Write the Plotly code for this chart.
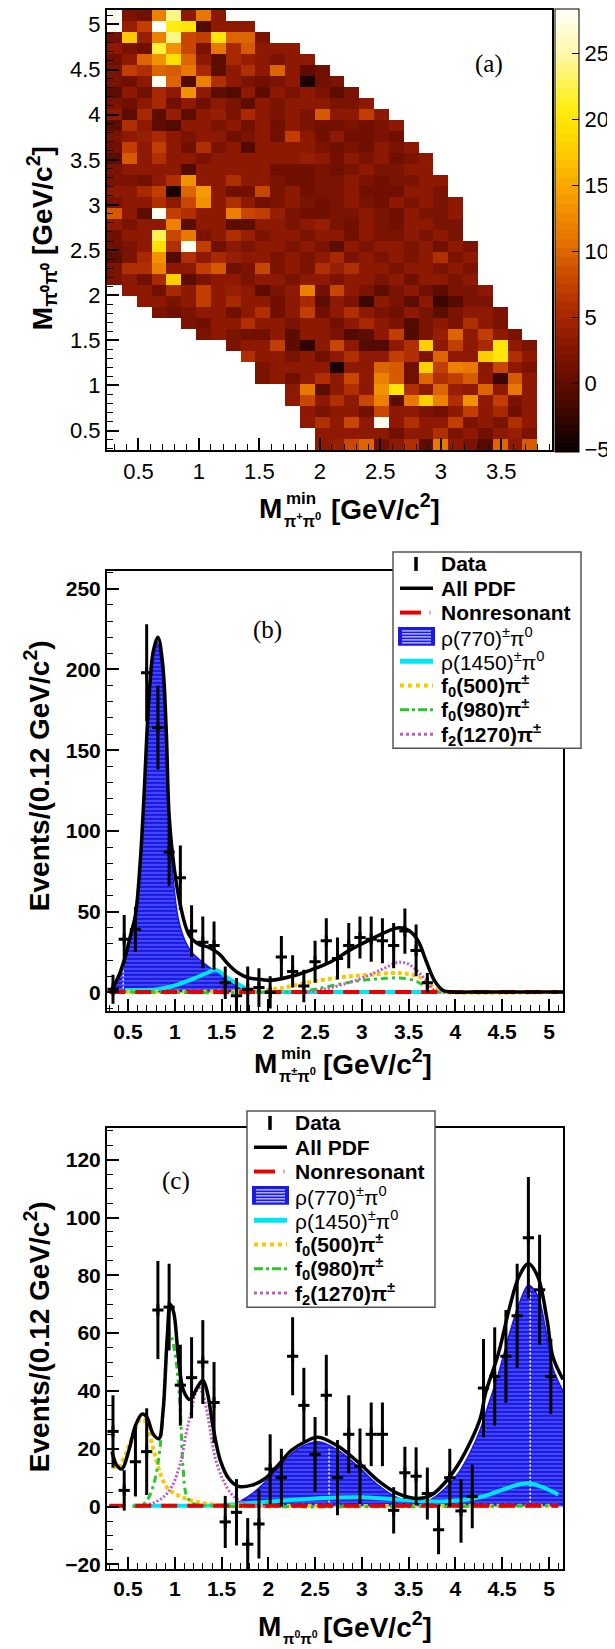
import plotly.graph_objects as go

W, H = 615, 1649
N = None

# ---------------- (a) background-subtracted Dalitz plot ----------------
# 30 columns in M_min(pi+pi0), 40 rows in M(pi0pi0); rows listed top -> bottom
dalitz_rows = [
    [30, 2, 1, 12, 24, 3, 11, 3],
    [30, 4, 7, 30, 21, 20, -1, 3, 3, 3],
    [1, 17, 4, 12, 24, 8, 7, 20, 10, 10, 2],
    [3, 2, 1, 22, 13, 8, 2, 11, 5, 9, 3, 3, 3],
    [1, 3, 10, 13, 19, 10, 3, 0, 5, 4, 3, 2, 3, 3],
    [2, 7, 6, 10, 9, 11, 5, 0, 3, 6, 3, 10, 3, 0, 1],
    [2, 1, 3, 30, 10, -1, 12, 6, 3, 2, 1, 2, 3, -4, 1, 2],
    [0, 3, 1, 5, 3, 13, 3, 0, -1, 3, 0, 3, 2, 3, 2, 0, 2],
    [2, 1, 3, 5, 1, 3, 1, 3, 2, 0, 3, 2, 3, 3, 3, 2, 2, 3],
    [3, 0, 5, 0, 4, 0, 3, 4, 2, 5, 3, 2, 3, 2, 9, 3, 3, 7, 3],
    [0, 6, 3, 0, -1, 3, 3, 2, 3, 1, 3, 1, 3, 2, 1, 1, 2, 1, 2, 3],
    [2, 3, 4, 5, 3, 2, 3, 3, 1, 2, 3, 1, 7, 3, 1, 3, 1, 1, 2, 1],
    [1, 7, 3, 7, 3, 1, 6, 2, 3, -1, 3, 3, 3, 3, 2, 1, 2, 1, 3, 2, 3],
    [0, 9, 3, 6, 3, 3, 2, 3, 3, 3, 3, 3, 3, 4, 3, 1, 3, 2, 3, 1, 2, 3],
    [2, 3, 3, 3, 3, -1, 3, 3, 3, 3, 3, 1, 1, 1, 2, 1, 2, 3, 2, 2, 3, 3],
    [2, 2, 1, 3, 6, 13, 3, 3, 6, 3, 3, 2, 1, 1, 2, 2, 3, 2, 1, 2, 2, 3, 3],
    [3, 3, 5, 7, -4, 10, 14, 3, 1, 1, 8, 2, 3, 1, 2, 2, 3, 1, 1, 1, 3, 3, 2],
    [2, 3, 3, 6, 3, 8, 13, 3, 6, 3, 1, 2, 3, 2, 1, 2, 3, 2, 1, 3, 2, 3, 2, 3],
    [9, 3, 0, 30, 7, 6, 3, 3, 12, 8, 7, 4, 2, 1, 1, 2, 2, 3, 2, 1, 3, 2, 2, 3],
    [3, 2, 3, 3, 12, 0, 3, 3, 0, 0, 3, 3, 2, 3, 4, 2, 1, 3, 2, 1, 3, 3, 2, 2],
    [1, 3, 3, 23, 8, 11, 2, 3, 6, 4, 2, 3, 3, 2, 3, 3, 1, 3, 2, 2, 3, 2, 3, 2],
    [1, 2, 3, 19, 6, 30, 7, 1, 3, 2, 3, 3, 2, 3, 2, 0, 3, 2, 3, 3, 2, 3, 1, 3, 2],
    [0, 2, 5, 13, -1, 6, 3, 5, 4, 3, 3, 2, 3, 2, 3, 5, 2, 3, 2, 3, 2, 3, 6, 2, 3],
    [2, 6, 6, 12, 3, 3, 7, 9, 1, 2, 8, 2, 3, 2, 6, 4, 6, 3, 3, 2, 3, 3, 2, 3, 2],
    [2, 3, 1, 5, 18, 0, 2, 3, 3, 2, 3, 3, 2, 3, 3, 2, 3, 3, 2, 3, 1, 3, 3, 2, 3],
    [N, 3, 3, 1, 5, 3, 7, 3, 4, 3, 0, 2, 3, 12, 1, 8, 3, 2, 0, 2, 3, 1, 0, 2, 2, 3],
    [N, N, 3, 3, 2, 3, 7, 3, 5, 3, 3, 1, 3, 5, 0, 3, 2, -2, 3, 2, 0, 3, -2, -1, 2, 2],
    [N, N, N, 2, 1, 2, 3, 3, 1, 3, 6, 1, 3, 7, 1, 3, 6, 3, 2, 1, 3, 2, 0, 2, 3, 3, 2],
    [N, N, N, N, N, 2, 1, 3, 3, 6, 3, 3, 2, 3, 3, 1, 3, 5, 3, 2, -1, 2, 3, 2, 6, 3, 2],
    [N, N, N, N, N, N, 2, 3, 2, 1, 1, 3, 0, 3, 3, 2, -1, 0, 3, 7, -1, 2, 4, 10, 3, 7, 3, 2],
    [N, N, N, N, N, N, N, N, 2, 3, 3, 7, 0, -3, 3, 8, 3, -1, -1, 3, 6, 18, 3, 7, 3, 5, 20, 3, 2],
    [N, N, N, N, N, N, N, N, N, 6, 3, 3, 2, 3, 1, 3, 6, 3, 3, 7, 6, 2, 10, 3, 3, 18, 20, 6, 3],
    [N, N, N, N, N, N, N, N, N, N, 2, 3, 3, 3, 3, -4, 3, 3, 10, 9, 1, 18, 7, 12, 11, 3, 8, 3, 2],
    [N, N, N, N, N, N, N, N, N, N, 2, 3, 1, 3, 6, 3, 8, 3, 12, 9, 1, 10, 6, 7, 9, 3, -2, 9, 3],
    [N, N, N, N, N, N, N, N, N, N, N, N, 3, 11, 0, 3, 6, 3, 13, 20, 6, 3, 10, 4, 3, 10, 3, 11, 3],
    [N, N, N, N, N, N, N, N, N, N, N, N, 3, 8, 3, 6, 3, 8, 12, 0, 11, 18, 12, 6, 13, 3, 7, 2, 3],
    [N, N, N, N, N, N, N, N, N, N, N, N, N, 3, 2, 3, 3, 1, 8, 3, 3, 2, 1, 3, 7, 3, 5, 1, 3],
    [N, N, N, N, N, N, N, N, N, N, N, N, N, 3, 6, 3, 8, 3, 30, 3, 6, 3, 3, 7, 2, 3, 2, 6, 3],
    [N, N, N, N, N, N, N, N, N, N, N, N, N, N, 3, 3, 3, 3, 3, 1, 3, 3, 6, 2, 3, 1, 3, 4, 2],
    [N, N, N, N, N, N, N, N, N, N, N, N, N, N, 3, 4, 8, 10, 1, 3, 6, 0, 11, 3, 2, -1, 10, 3, 9],
]
z_min, z_max = -5.2, 28.4
palette = [(-5.2, (10, 0, 0)), (-3, (45, 5, 0)), (-1, (80, 10, 0)), (1, (110, 15, 0)),
           (3, (138, 24, 3)), (5, (165, 38, 0)), (7, (190, 58, 0)), (9, (212, 87, 0)),
           (11, (231, 117, 0)), (13, (242, 142, 0)), (15, (249, 168, 0)), (17, (253, 196, 0)),
           (19, (255, 221, 0)), (21, (255, 237, 20)), (23, (255, 244, 95)), (25, (255, 248, 170)),
           (28.4, (255, 255, 250))]

# ---------------- (b) M_min(pi+- pi0) projection ----------------
b_x = [0.34, 0.46, 0.58, 0.70, 0.82, 0.94, 1.06, 1.18, 1.30, 1.42, 1.54, 1.66, 1.78, 1.90, 2.02,
       2.14, 2.26, 2.38, 2.50, 2.62, 2.74, 2.86, 2.98, 3.10, 3.22, 3.34, 3.46, 3.58, 3.70]
b_y = [2, 33, 39, 198, 164, 87, 71, 38, 31, 29, 6, -2, 2, 3, 0,
       22, 13, 4, 19, 32, 21, 29, 34, 33, 32, 29, 38, 26, 6]
b_err = [9, 15, 14, 30, 26, 21, 20, 16, 16, 15, 10, 11, 14, 12, 10,
         13, 10, 10, 13, 14, 13, 14, 13, 14, 14, 14, 14, 16, 6]

b_tot_x = [0.33, 0.40, 0.47, 0.53, 0.58, 0.63, 0.67, 0.72, 0.77, 0.82, 0.87, 0.91, 0.94, 0.99,
           1.06, 1.15, 1.25, 1.36, 1.47, 1.58, 1.68, 1.79, 1.93, 2.03, 2.25, 2.46, 2.67, 2.88,
           3.10, 3.28, 3.40, 3.51, 3.60, 3.69, 3.78, 3.87, 3.96, 4.3, 5.15]
b_tot_y = [2, 10, 22, 36, 48, 80, 120, 178, 211, 220, 204, 161, 110, 79,
           54, 36, 30, 28, 24, 17, 12, 9, 8, 7.5, 10, 14, 19, 26.5,
           33, 38, 40, 38, 32, 19, 7, 1.2, 0.3, 0.3, 0.3]
b_rho_x = [0.33, 0.40, 0.47, 0.53, 0.58, 0.63, 0.67, 0.72, 0.77, 0.81, 0.86, 0.90, 0.94, 0.98,
           1.04, 1.11, 1.18, 1.27, 1.36, 1.45, 1.54, 1.62, 1.68, 1.74, 1.80]
b_rho_y = [1, 9, 20, 34, 46, 77, 117, 175, 208, 217, 201, 158, 104, 72,
           45, 32, 25, 20, 16, 12.5, 9, 5.5, 3, 1.2, 0]
b_r1450_x = [0.47, 0.65, 0.82, 0.95, 1.04, 1.13, 1.22, 1.30, 1.36, 1.43, 1.49, 1.54, 1.61, 1.68,
             1.75, 1.82, 1.95, 2.5, 3.0, 3.5, 3.85]
b_r1450_y = [1.5, 1.5, 2, 3.5, 5, 7, 9, 11, 12.5, 14, 12.5, 10, 7.5, 5,
             3, 1.2, 0.4, 0.3, 0.3, 0.3, 0.3]
b_f500_x = [0.33, 0.8, 1.3, 1.8, 2.05, 2.25, 2.5, 2.8, 3.1, 3.4, 3.6, 3.72, 3.82, 3.9, 5.15]
b_f500_y = [0.5, 0.5, 0.5, 0.8, 2, 4, 7, 9.5, 11, 12, 10, 5, 1, 0.2, 0.2]
b_f980_x = [0.33, 2.3, 2.5, 2.75, 3.0, 3.2, 3.4, 3.58, 3.7, 3.8, 3.9]
b_f980_y = [0.3, 0.5, 2, 5, 7.5, 8.5, 9, 7, 3, 0.5, 0.2]
b_f2_x = [2.3, 2.45, 2.6, 2.8, 3.03, 3.24, 3.38, 3.48, 3.58, 3.69, 3.77, 3.85]
b_f2_y = [0, 0.5, 2, 5, 9.5, 15, 18.5, 18, 14, 7, 1.5, 0.2]
b_nr_x = [0.3, 5.1]
b_nr_y = [0.3, 0.3]
b_seam_x = [0.45]          # white seam visible inside the rho(770) fill
b_seam_top = [17]

# ---------------- (c) M(pi0 pi0) projection ----------------
c_x = [0.34, 0.46, 0.58, 0.70, 0.82, 0.94, 1.06, 1.18, 1.30, 1.42, 1.54, 1.66, 1.78, 1.90,
       2.02, 2.14, 2.26, 2.38, 2.50, 2.62, 2.74, 2.86, 2.98, 3.10, 3.22, 3.34, 3.46, 3.58,
       3.70, 3.82, 3.94, 4.06, 4.18, 4.30, 4.42, 4.54, 4.66, 4.78, 4.90, 5.02]
c_y = [26, 5.6, 15.5, 19, 68, 69, 42, 44.6, 50, 36, -5.3, -2, -13, -6,
       13, 10, 52, 35, 18, 38.5, 10, 25, 14, 25, 25, -1.3, 11.7, 10.5,
       4.5, -8, 10, -1.5, 3.5, 41, 45, 52, 66, 93, 75, 45]
c_err = [12.5, 7, 12, 15, 17, 15, 14, 14, 14.5, 14, 9, 11.5, 9, 12,
         12, 10, 13.5, 13, 13, 14, 13, 13.5, 13, 11, 11, 8, 9, 10,
         9, 8.5, 10, 11, 11, 17, 17, 16, 18, 21, 19, 13]

c_tot_x = [0.33, 0.38, 0.435, 0.51, 0.58, 0.65, 0.70, 0.77, 0.83, 0.875, 0.92, 0.952, 0.99,
           1.035, 1.095, 1.166, 1.237, 1.30, 1.345, 1.416, 1.487, 1.577, 1.68, 1.825, 1.966,
           2.11, 2.25, 2.40, 2.53, 2.74, 2.955, 3.17, 3.385, 3.60, 3.74, 3.88, 4.025, 4.17,
           4.27, 4.32, 4.46, 4.58, 4.68, 4.78, 4.88, 4.98, 5.04, 5.15]
c_tot_y = [19, 14.3, 13, 19.5, 28, 32, 31, 25, 23.5, 33, 58.7, 70, 67,
           53, 40, 37, 41, 43.7, 40, 26.4, 16, 9.7, 7, 7.4, 9.7,
           14.5, 19.5, 22.5, 24, 21, 15.5, 9.1, 4.5, 2.8, 3.9, 8, 14.3, 23,
           31, 39, 53, 69, 79.6, 84, 79.6, 64.5, 52, 44]
c_rho_x = [1.59, 1.68, 1.825, 1.966, 2.11, 2.32, 2.53, 2.74, 2.955, 3.17, 3.385, 3.6, 3.74,
           3.88, 4.03, 4.17, 4.27, 4.34, 4.46, 4.58, 4.68, 4.78, 4.88, 4.96, 5.04, 5.15]
c_rho_y = [0, 1.5, 4.4, 8.5, 13.5, 20, 22.4, 19.6, 14, 7.5, 3, 1.5, 2.5,
           6, 11.5, 19.5, 27, 34, 46, 60, 70, 76.6, 73, 62, 48, 40]
c_r1450_x = [0.55, 1.0, 1.5, 1.8, 2.2, 2.6, 3.0, 3.4, 3.7, 4.0, 4.3, 4.5, 4.7, 4.8, 4.95, 5.1]
c_r1450_y = [0.3, 0.3, 0.5, 1.2, 2.2, 3.0, 3.2, 2.4, 1.8, 2.0, 3.5, 5.8, 7.8, 8, 6.5, 4.2]
c_f500_x = [0.33, 0.40, 0.46, 0.52, 0.58, 0.63, 0.67, 0.72, 0.78, 0.85, 0.92, 1.0, 1.1,
            1.25, 1.5, 2.0, 5.1]
c_f500_y = [14, 13.5, 17, 22, 27, 30, 30, 26, 19, 11, 6.5, 4.5, 3, 1.5, 0.5, 0.3, 0.3]
c_f980_x = [0.55, 0.65, 0.72, 0.80, 0.87, 0.92, 0.95, 0.98, 1.02, 1.06, 1.09, 1.13, 1.2, 1.4, 5.1]
c_f980_y = [0, 0.5, 3, 11, 30, 56, 60, 57, 49, 33, 13, 3.5, 1, 0.3, 0.3]
c_f2_x = [0.6, 0.75, 0.88, 0.97, 1.06, 1.12, 1.17, 1.22, 1.26, 1.30, 1.35, 1.40, 1.44,
          1.51, 1.59, 1.68, 1.8, 2.0]
c_f2_y = [0, 1, 3.3, 7, 15, 25, 32, 39, 41, 39, 32, 22, 16, 9.7, 5, 2.3, 0.5, 0]
c_nr_x = [0.3, 5.1]
c_nr_y = [0.3, 0.3]
c_seam_x = [2.65, 4.80]
c_seam_top = [20, 74]

legend_labels = ["<b>Data</b>", "<b>All PDF</b>", "<b>Nonresonant</b>",
                 "ρ(770)<sup>±</sup>π<sup>0</sup>", "ρ(1450)<sup>±</sup>π<sup>0</sup>",
                 "<b>f<sub>0</sub>(500)π<sup>±</sup></b>", "<b>f<sub>0</sub>(980)π<sup>±</sup></b>",
                 "<b>f<sub>2</sub>(1270)π<sup>±</sup></b>"]

BLUE = "rgb(25,25,235)"
CYAN = "rgb(0,230,240)"
RED = "rgb(230,0,0)"
GOLD = "rgb(250,200,0)"
GREEN = "rgb(40,200,40)"
VIOLET = "rgb(190,90,200)"
FONT = "Liberation Sans"


def px(x):
    return x / W


def py(y):
    return 1 - y / H


def stepped_scale(stops, lo, hi, n=50):
    def colour(v):
        for (v0, c0), (v1, c1) in zip(stops[:-1], stops[1:]):
            if v <= v1:
                f = (v - v0) / (v1 - v0)
                return "rgb(%d,%d,%d)" % tuple(round(a + (b - a) * f) for a, b in zip(c0, c1))
        return "rgb(%d,%d,%d)" % stops[-1][1]
    out = []
    for i in range(n):
        c = colour(lo + (hi - lo) * (i + 0.5) / n)
        out += [[i / n, c], [(i + 1) / n, c]]
    return out


z = [row + [None] * (30 - len(row)) for row in dalitz_rows][::-1]

fig = go.Figure()

fig.add_trace(go.Heatmap(
    z=z, x0=0.24 + 3.68 / 60, dx=3.68 / 30, y0=0.28 + 0.061, dy=0.122,
    zmin=z_min, zmax=z_max, colorscale=stepped_scale(palette, z_min, z_max),
    hoverinfo="skip", xaxis="x", yaxis="y",
    colorbar=dict(x=px(547), xanchor="left", y=py(223), yanchor="middle",
                  len=443, lenmode="pixels", thickness=24, xpad=0, ypad=0,
                  outlinewidth=1, outlinecolor="black",
                  tickvals=[-5, 0, 5, 10, 15, 20, 25], ticks="inside", ticklen=7,
                  tickcolor="black", tickfont=dict(family=FONT, size=22, color="black")),
))


def add_fit(xa, ya, data, tot, nr, rho, r1450, f500, f980, f2, seams):
    common = dict(xaxis=xa, yaxis=ya, hoverinfo="skip", showlegend=False)
    fig.add_trace(go.Scatter(
        x=rho[0], y=rho[1], mode="lines", line=dict(color=BLUE, width=1.5, shape="spline"),
        fill="tozeroy", fillcolor=BLUE,
        fillpattern=dict(shape="-", fgcolor="white", bgcolor=BLUE, size=4, solidity=0.2),
        **common))
    for sx, st in zip(*seams):
        fig.add_trace(go.Scatter(x=[sx, sx], y=[0, st], mode="lines",
                                 line=dict(color="white", width=1.5, dash="2px,2px"), **common))
    fig.add_trace(go.Scatter(x=r1450[0], y=r1450[1], mode="lines",
                             line=dict(color=CYAN, width=4, shape="spline"), **common))
    fig.add_trace(go.Scatter(x=f500[0], y=f500[1], mode="lines",
                             line=dict(color=GOLD, width=4, dash="4px,3px", shape="spline"), **common))
    fig.add_trace(go.Scatter(x=f980[0], y=f980[1], mode="lines",
                             line=dict(color=GREEN, width=3, dash="7px,4px,3px,4px", shape="spline"),
                             **common))
    fig.add_trace(go.Scatter(x=f2[0], y=f2[1], mode="lines",
                             line=dict(color=VIOLET, width=3, dash="2px,2px", shape="spline"), **common))
    fig.add_trace(go.Scatter(x=nr[0], y=nr[1], mode="lines",
                             line=dict(color=RED, width=4, dash="16px,10px"), **common))
    fig.add_trace(go.Scatter(x=tot[0], y=tot[1], mode="lines",
                             line=dict(color="black", width=3.5, shape="spline"), **common))
    fig.add_trace(go.Scatter(
        x=data[0], y=data[1], mode="markers",
        marker=dict(symbol="line-ns", size=8, color="black", line=dict(width=3, color="black")),
        error_y=dict(type="data", array=data[2], thickness=3, width=0, color="black"),
        error_x=dict(type="constant", value=0.06, thickness=3, width=0, color="black"),
        **common))


add_fit("x2", "y2", (b_x, b_y, b_err), (b_tot_x, b_tot_y), (b_nr_x, b_nr_y),
        (b_rho_x, b_rho_y), (b_r1450_x, b_r1450_y), (b_f500_x, b_f500_y),
        (b_f980_x, b_f980_y), (b_f2_x, b_f2_y), (b_seam_x, b_seam_top))
add_fit("x3", "y3", (c_x, c_y, c_err), (c_tot_x, c_tot_y), (c_nr_x, c_nr_y),
        (c_rho_x, c_rho_y), (c_r1450_x, c_r1450_y), (c_f500_x, c_f500_y),
        (c_f980_x, c_f980_y), (c_f2_x, c_f2_y), (c_seam_x, c_seam_top))


def axis(domain, rng, dtick, minor, anchor, bold, size):
    return dict(domain=domain, range=rng, anchor=anchor, dtick=dtick, tick0=0,
                showgrid=False, zeroline=False, showline=True, linewidth=2, linecolor="black",
                mirror=True, ticks="inside", ticklen=12, tickwidth=1.5, tickcolor="black",
                minor=dict(ticks="inside", ticklen=6, tickwidth=1.2, tickcolor="black", dtick=minor),
                tickfont=dict(family=FONT, size=size, color="black",
                              weight="bold" if bold else "normal"))


fig.update_layout(
    width=W, height=H, margin=dict(l=0, r=0, t=0, b=0),
    paper_bgcolor="white", plot_bgcolor="white", showlegend=False,
    xaxis=axis([px(99), px(544)], [0.24, 3.92], 0.5, 0.1, "y", False, 22),
    yaxis=axis([py(444), py(2)], [0.28, 5.16], 0.5, 0.1, "x", False, 22),
    xaxis2=axis([px(99), px(555)], [0.276, 5.15], 0.5, 0.1, "y2", True, 21),
    yaxis2=axis([py(1007), py(565)], [-11.7, 261], 50, 10, "x2", True, 21),
    xaxis3=axis([px(99), px(555)], [0.276, 5.15], 0.5, 0.1, "y3", True, 21),
    yaxis3=axis([py(1567), py(1124)], [-21.7, 131], 20, 5, "x3", True, 21),
)


def note(text, x, y, size, xanchor="center", yanchor="middle", angle=0, family=FONT, bold=True):
    fig.add_annotation(text=text, x=px(x), y=py(y), xref="paper", yref="paper",
                       xanchor=xanchor, yanchor=yanchor, textangle=angle, showarrow=False,
                       font=dict(family=family, size=size, color="black",
                                 weight="bold" if bold else "normal"))


def seg(x0, y0, x1, y1, color, width, dash="solid"):
    fig.add_shape(type="line", xref="paper", yref="paper", layer="above",
                  x0=px(x0), y0=py(y0), x1=px(x1), y1=py(y1),
                  line=dict(color=color, width=width, dash=dash))


def draw_legend(left, top):
    # ROOT-style legend box drawn over the frame
    fig.add_shape(type="rect", xref="paper", yref="paper", layer="above",
                  x0=px(left), x1=px(left + 188), y0=py(top), y1=py(top + 197),
                  line=dict(color="#555", width=1.5), fillcolor="white")
    rows = [top + 12 + 24.4 * i for i in range(8)]
    a, b = left + 7, left + 40
    seg(left + 23, rows[0] - 7, left + 23, rows[0] + 7, "black", 3.5)
    seg(a, rows[1], b, rows[1], "black", 3.5)
    seg(a, rows[2], left + 28, rows[2], RED, 4)
    seg(left + 37, rows[2] - 2, left + 37, rows[2] + 2, "rgb(240,150,150)", 1.5)
    fig.add_shape(type="rect", xref="paper", yref="paper", layer="above",
                  x0=px(left + 6), x1=px(left + 41), y0=py(rows[3] + 8), y1=py(rows[3] - 9),
                  line=dict(color=BLUE, width=2), fillcolor=BLUE)
    for k in range(5):
        seg(left + 9, rows[3] - 6 + 3 * k, left + 38, rows[3] - 6 + 3 * k, "white", 1)
    seg(a, rows[4], b, rows[4], CYAN, 5)
    seg(a, rows[5], b, rows[5], GOLD, 4, "dot")
    seg(a, rows[6], b, rows[6], GREEN, 3, "dashdot")
    seg(a, rows[7], b, rows[7], VIOLET, 3, "dot")
    for yy, label in zip(rows, legend_labels):
        note(label, left + 46, yy, 21, xanchor="left", bold=False)


draw_legend(385, 546)
draw_legend(239, 1107)

# panel labels
note("(a)", 481, 56, 25, family="Liberation Serif", bold=False)
note("(b)", 259, 624, 25, family="Liberation Serif", bold=False)
note("(c)", 168, 1177, 25, family="Liberation Serif", bold=False)

# x-axis titles
note("M", 276, 502, 28, xanchor="right")
note("min", 276, 492, 17, xanchor="left")
note("π<sup>+</sup>π<sup>0</sup>", 274, 514, 16, xanchor="left")
note("[GeV/c<sup>2</sup>]", 321, 501, 28, xanchor="left")

note("M", 271, 1059, 28, xanchor="right")
note("min", 271, 1049, 17, xanchor="left")
note("π<sup>±</sup>π<sup>0</sup>", 269, 1071, 16, xanchor="left")
note("[GeV/c<sup>2</sup>]", 313, 1058, 28, xanchor="left")

note("M", 275, 1624, 28, xanchor="right")
note("π<sup>0</sup>π<sup>0</sup>", 273, 1635, 15, xanchor="left")
note("[GeV/c<sup>2</sup>]", 313, 1623, 28, xanchor="left")

# y-axis titles
note("M<sub>π⁰π⁰</sub> [GeV/c<sup>2</sup>]", 34, 231, 28, angle=-90)
note("Events/(0.12 GeV/c<sup>2</sup>)", 29, 771, 28, angle=-90)
note("Events/(0.12 GeV/c<sup>2</sup>)", 29, 1334, 28, angle=-90)

fig.write_html("out.html")
